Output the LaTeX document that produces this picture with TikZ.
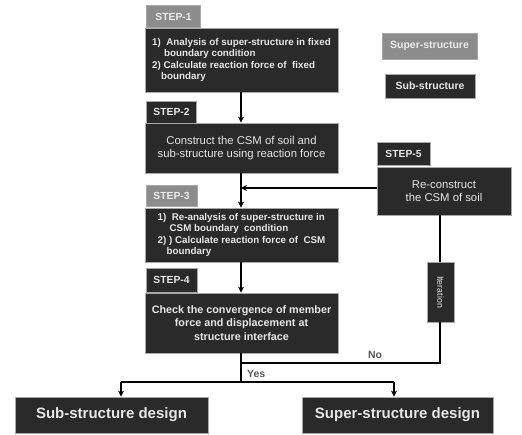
\documentclass[tikz,border=0pt]{standalone}
\usepackage{fontspec}
\setmainfont{Liberation Sans}
\usetikzlibrary{arrows.meta}
\definecolor{dark}{HTML}{2A2A2A}
\definecolor{midgray}{HTML}{8C8C8C}
\definecolor{txt}{HTML}{E6E6E6}
\definecolor{edge}{HTML}{A8A8A8}
\tikzset{
  box/.style={draw=edge, line width=0.9pt, fill=dark, text=txt, inner sep=2pt, font=\bfseries\fontsize{9.8}{11.6}\selectfont},
  tabd/.style={box, font=\bfseries\fontsize{10.3}{11}\selectfont},
  tabg/.style={tabd, fill=midgray, text=white!92!black},
  conn/.style={line width=1.1pt, draw=black},
  arr/.style={conn, -{Stealth[length=6pt,width=6pt]}},
  lbl/.style={font=\bfseries\fontsize{10.5}{11}\selectfont, text=black!65, inner sep=1pt}
}
\begin{document}
\begin{tikzpicture}[x=1pt,y=-1pt]
\useasboundingbox[fill=white] (0,0) rectangle (522,435);
% STEP-1
\node[tabg, minimum width=54, minimum height=22] (t1) at (173.5,16.5) {STEP-1};
\node[box, minimum width=193, minimum height=64, align=left] (s1) at (241.5,60)
 {1)\ \ Analysis of super-structure in fixed\\\hspace*{12pt}boundary condition\\2) Calculate reaction force of\ \ fixed\\\hspace*{9pt}boundary};
% STEP-2
\node[tabd, minimum width=50, minimum height=22] (t2) at (171.5,112) {STEP-2};
\node[box, minimum width=193, minimum height=50, align=center, font=\fontsize{11.3}{13.5}\selectfont] (s2) at (241.5,148)
 {Construct the CSM of soil and\\sub-structure using reaction force};
% STEP-3
\node[tabg, minimum width=51, minimum height=21] (t3) at (171.5,196) {STEP-3};
\node[box, minimum width=193, minimum height=54, align=left] (s3) at (241.5,235)
 {1)\ \ Re-analysis of super-structure in\\\hspace*{12pt}CSM boundary\ \ condition\\2) ) Calculate reaction force of\ \ CSM\\\hspace*{9pt}boundary};
% STEP-4
\node[tabd, minimum width=51, minimum height=24] (t4) at (171.5,280) {STEP-4};
\node[box, minimum width=193, minimum height=60, align=center, font=\bfseries\fontsize{10.8}{13.2}\selectfont] (s4) at (241.5,323)
 {Check the convergence of member\\force and displacement at\\structure interface};
% STEP-5
\node[tabd, minimum width=53, minimum height=23] (t5) at (403.5,153.5) {STEP-5};
\node[box, minimum width=134, minimum height=48, align=center, font=\fontsize{11.3}{13.2}\selectfont] (s5) at (444,191)
 {Re-construct\\the CSM of soil};
% Iteration
\node[box, minimum width=27, minimum height=60] (it) at (440.5,292) {};
\node[text=txt, rotate=-90, font=\fontsize{8.8}{9}\selectfont, inner sep=0pt] (itl) at (it.center) {Iteration};
% legend
\node[box, fill=midgray, minimum width=95, minimum height=26, font=\bfseries\fontsize{10.5}{11}\selectfont, text=white!92!black] (l1) at (429.5,46) {Super-structure};
\node[box, minimum width=90, minimum height=24, font=\bfseries\fontsize{10.5}{11}\selectfont] (l2) at (430,86) {Sub-structure};
% designs
\node[box, minimum width=193, minimum height=36, font=\bfseries\fontsize{15}{16}\selectfont] (sub) at (111.5,415) {Sub-structure design};
\node[box, minimum width=191, minimum height=36, font=\bfseries\fontsize{15}{16}\selectfont] (sup) at (397.5,415) {Super-structure design};
% coordinates
\coordinate (j5) at (241,188);
\coordinate (jn) at (241,363);
\coordinate (jc) at (241,382);
\coordinate (jl) at (121,382);
\coordinate (jr) at (394,382);
\coordinate (nr) at (440,363);
% connectors
\draw[arr] (s1.south -| j5) -- (s2.north -| j5);
\draw[arr] (s2.south -| j5) -- (s3.north -| j5);
\draw[arr] (s5.west |- j5) -- (j5);
\draw[arr] (s3.south -| j5) -- (s4.north -| j5);
\draw[conn] (s4.south -| jc) -- (jc);
\draw[conn] (jl) -- (jr);
\draw[arr] (jl) -- (sub.north -| jl);
\draw[arr] (jr) -- (sup.north -| jr);
\draw[conn] (jn) -- (nr) -- (it.south -| nr);
\draw[conn] (it.north -| nr) -- (s5.south -| nr);
\node[lbl, anchor=west] (yes) at (246,374) {Yes};
\node[lbl, anchor=center] (no) at (375,355) {No};
\end{tikzpicture}
\end{document}
